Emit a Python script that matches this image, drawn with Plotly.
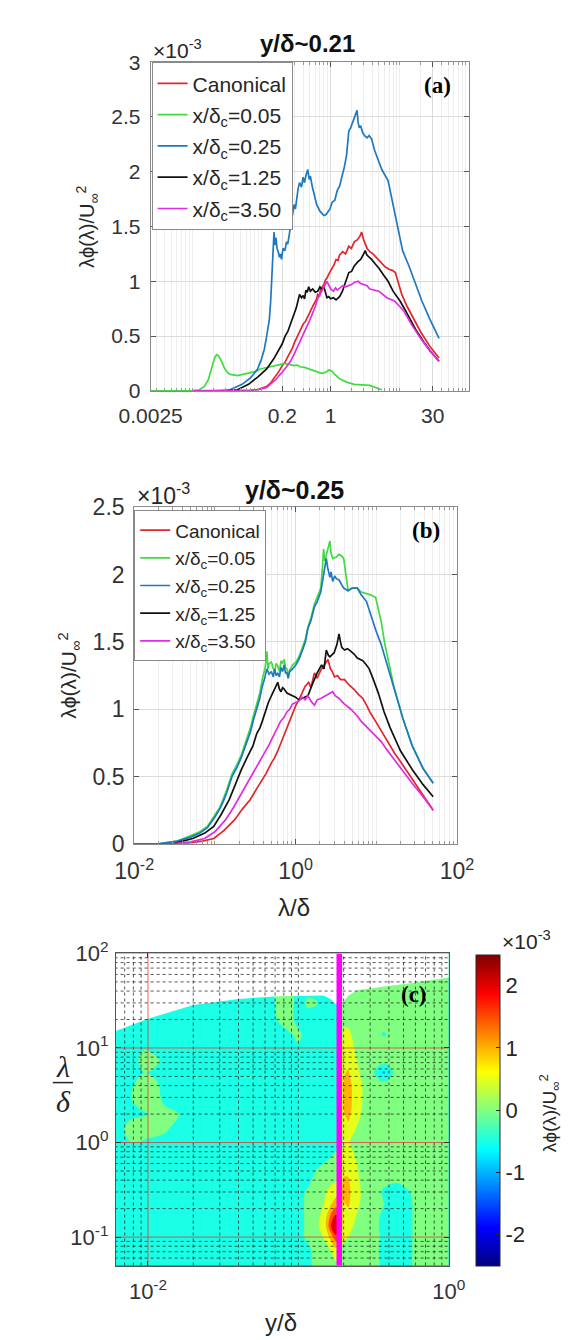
import numpy as np
import plotly.graph_objects as go

W, H = 573, 1340

# ---------------- DATA ----------------
series_names = ["Canonical", "x/δ<sub>c</sub>=0.05", "x/δ<sub>c</sub>=0.25",
                "x/δ<sub>c</sub>=1.25", "x/δ<sub>c</sub>=3.50"]
series_colors = ["#e3262b", "#3fdc3f", "#1f78c0", "#111111", "#e02de0"]

# Panel (a): y/delta ~ 0.21  (lambda/delta, lambda*phi/U^2 in units of 1e-3)
a_canonical = [(0.01, 0), (0.04, 0), (0.07, 0.005), (0.09, 0.015), (0.119, 0.04), (0.135, 0.07), (0.15, 0.11),
               (0.165, 0.14), (0.18, 0.18), (0.2, 0.23), (0.219, 0.26), (0.24, 0.31), (0.26, 0.35), (0.28, 0.39),
               (0.3, 0.44), (0.325, 0.49), (0.35, 0.53), (0.375, 0.58), (0.402, 0.61), (0.43, 0.63), (0.45, 0.66),
               (0.48, 0.7), (0.513, 0.73), (0.56, 0.78), (0.597, 0.82), (0.63, 0.84), (0.65, 0.88), (0.69, 0.87),
               (0.72, 0.93), (0.76, 0.95), (0.8, 0.97), (0.84, 1.01), (0.885, 1.03), (0.95, 1.07), (1.05, 1.12),
               (1.12, 1.15), (1.2, 1.2), (1.28, 1.19), (1.35, 1.24), (1.5, 1.27), (1.65, 1.25), (1.835, 1.32),
               (2.0, 1.3), (2.2, 1.36), (2.45, 1.38), (2.65, 1.41), (2.81, 1.45), (3.0, 1.38), (3.37, 1.3),
               (3.7, 1.27), (4.1, 1.25), (4.57, 1.22), (5.3, 1.18), (6.19, 1.13), (7.0, 1.11), (7.8, 1.1),
               (8.64, 1.08), (9.6, 0.97), (10.7, 0.88), (12.8, 0.77), (15.4, 0.67), (20, 0.54), (27, 0.41), (37, 0.3)]
a_x005 = [(0.0025, 0), (0.006, 0), (0.01, 0.003), (0.0126, 0.01), (0.015, 0.04), (0.017, 0.1), (0.019, 0.2),
          (0.021, 0.3), (0.0224, 0.33), (0.024, 0.32), (0.026, 0.28), (0.029, 0.21), (0.032, 0.17), (0.0354, 0.15),
          (0.045, 0.14), (0.0525, 0.15), (0.07, 0.17), (0.085, 0.18), (0.0964, 0.2), (0.13, 0.22), (0.177, 0.24),
          (0.22, 0.25), (0.26, 0.24), (0.297, 0.23), (0.33, 0.235), (0.36, 0.22), (0.42, 0.215), (0.482, 0.2),
          (0.6, 0.18), (0.738, 0.16), (0.85, 0.17), (0.95, 0.19), (1.05, 0.18), (1.15, 0.15), (1.355, 0.11),
          (1.7, 0.08), (2.2, 0.06), (3.0, 0.05), (3.7, 0.05), (4.5, 0.03), (5.5, 0.01)]
a_x025 = [(0.01, 0), (0.025, 0), (0.035, 0.01), (0.0525, 0.06), (0.07, 0.12), (0.088, 0.2), (0.1, 0.29),
          (0.11, 0.38), (0.119, 0.5), (0.13, 0.65), (0.136, 0.82), (0.139, 0.95), (0.143, 1.15), (0.147, 1.3),
          (0.152, 1.45), (0.156, 1.33), (0.162, 1.4), (0.168, 1.3), (0.175, 1.27), (0.182, 1.22), (0.188, 1.25),
          (0.195, 1.2), (0.205, 1.3), (0.219, 1.28), (0.23, 1.36), (0.24, 1.34), (0.253, 1.44), (0.263, 1.5),
          (0.28, 1.6), (0.297, 1.7), (0.31, 1.66), (0.325, 1.78), (0.34, 1.85), (0.356, 1.9), (0.38, 1.86),
          (0.4, 1.95), (0.42, 1.9), (0.441, 1.97), (0.468, 2.02), (0.49, 1.93), (0.51, 1.96), (0.545, 1.86),
          (0.57, 1.8), (0.6, 1.75), (0.63, 1.7), (0.654, 1.68), (0.7, 1.64), (0.75, 1.62), (0.8, 1.6),
          (0.859, 1.61), (0.92, 1.64), (0.98, 1.66), (1.05, 1.72), (1.15, 1.74), (1.25, 1.83), (1.355, 1.87),
          (1.45, 1.95), (1.578, 2.04), (1.7, 2.15), (1.835, 2.37), (1.95, 2.4), (2.1, 2.45), (2.25, 2.5),
          (2.41, 2.56), (2.5, 2.45), (2.6, 2.4), (2.72, 2.42), (2.9, 2.36), (3.1, 2.33), (3.37, 2.31), (3.6, 2.33),
          (3.92, 2.3), (4.3, 2.2), (4.71, 2.13), (5.5, 2.02), (6.78, 1.92), (8.0, 1.7), (9.19, 1.5), (11, 1.28),
          (13.6, 1.14), (17, 0.97), (20.9, 0.82), (27, 0.66), (37, 0.48)]
a_x125 = [(0.01, 0), (0.03, 0), (0.045, 0.01), (0.065, 0.06), (0.09, 0.13), (0.119, 0.2), (0.15, 0.29),
          (0.177, 0.37), (0.2, 0.43), (0.22, 0.5), (0.24, 0.54), (0.263, 0.61), (0.28, 0.66), (0.3, 0.72),
          (0.32, 0.76), (0.34, 0.83), (0.356, 0.88), (0.38, 0.85), (0.402, 0.87), (0.42, 0.84), (0.44, 0.92),
          (0.46, 0.9), (0.482, 0.95), (0.51, 0.91), (0.55, 0.93), (0.6, 0.9), (0.654, 0.91), (0.7, 0.95),
          (0.74, 0.93), (0.809, 0.94), (0.85, 0.88), (0.885, 0.85), (0.94, 0.86), (1.0, 0.84), (1.1, 0.85),
          (1.2, 0.83), (1.35, 0.86), (1.485, 0.91), (1.6, 0.97), (1.7, 1.02), (1.835, 1.08), (2.01, 1.09),
          (2.2, 1.14), (2.49, 1.18), (2.72, 1.2), (2.95, 1.24), (3.17, 1.28), (3.35, 1.24), (3.5, 1.23),
          (3.92, 1.2), (4.4, 1.16), (5.0, 1.12), (5.8, 1.06), (6.78, 1.0), (8.0, 0.91), (10.1, 0.82),
          (11.7, 0.75), (13.6, 0.67), (17, 0.56), (22, 0.45), (28, 0.36), (37, 0.27)]
a_x350 = [(0.01, 0), (0.04, 0), (0.07, 0.005), (0.09, 0.012), (0.119, 0.03), (0.14, 0.07), (0.16, 0.1),
          (0.18, 0.14), (0.2, 0.17), (0.23, 0.22), (0.263, 0.27), (0.3, 0.34), (0.33, 0.4), (0.36, 0.45),
          (0.4, 0.52), (0.44, 0.57), (0.482, 0.62), (0.52, 0.67), (0.56, 0.72), (0.6, 0.77), (0.65, 0.84),
          (0.7, 0.88), (0.738, 0.91), (0.8, 0.95), (0.885, 1.0), (0.95, 0.96), (1.0, 0.93), (1.1, 0.91),
          (1.18, 0.94), (1.25, 0.92), (1.4, 0.94), (1.5, 0.96), (1.65, 0.95), (1.835, 0.96), (2.0, 0.97),
          (2.2, 0.99), (2.49, 1.0), (2.72, 0.98), (3.0, 0.97), (3.37, 0.96), (3.69, 0.93), (4.3, 0.92),
          (5.0, 0.91), (6.5, 0.85), (8.38, 0.82), (10, 0.77), (11.4, 0.73), (15, 0.6), (20, 0.48), (27, 0.37),
          (37, 0.27)]

# Panel (b): y/delta ~ 0.25
b_canonical = [(0.01, 0), (0.04, 0), (0.07, 0.02), (0.0968, 0.04), (0.13, 0.1), (0.176, 0.18), (0.22, 0.26),
               (0.275, 0.33), (0.33, 0.41), (0.38, 0.47), (0.428, 0.52), (0.5, 0.6), (0.55, 0.64), (0.601, 0.69),
               (0.68, 0.77), (0.78, 0.86), (0.88, 0.93), (1.01, 1.03), (1.1, 1.07), (1.2, 1.12), (1.31, 1.17),
               (1.45, 1.2), (1.55, 1.16), (1.71, 1.27), (1.85, 1.23), (2.05, 1.29), (2.25, 1.33), (2.52, 1.37),
               (2.7, 1.3), (2.85, 1.28), (3.03, 1.24), (3.3, 1.25), (3.6, 1.22), (4.04, 1.22), (4.6, 1.18),
               (5.24, 1.15), (6.0, 1.11), (6.81, 1.08), (7.56, 1.03), (8.5, 0.97), (9.81, 0.91), (11.5, 0.84),
               (13.8, 0.77), (17, 0.67), (20, 0.61), (28, 0.48), (38, 0.37), (50.7, 0.25)]
b_x005 = [(0.01, 0), (0.02, 0), (0.0341, 0.02), (0.05, 0.06), (0.065, 0.09), (0.0807, 0.13), (0.1, 0.22),
          (0.115, 0.27), (0.126, 0.33), (0.14, 0.4), (0.163, 0.52), (0.185, 0.58), (0.212, 0.66), (0.24, 0.76),
          (0.275, 0.86), (0.3, 0.95), (0.33, 1.05), (0.36, 1.12), (0.386, 1.22), (0.41, 1.28), (0.42, 1.31),
          (0.44, 1.43), (0.455, 1.3), (0.47, 1.34), (0.501, 1.35), (0.53, 1.3), (0.55, 1.28), (0.575, 1.34),
          (0.601, 1.32), (0.63, 1.28), (0.66, 1.36), (0.69, 1.34), (0.722, 1.37), (0.75, 1.31), (0.78, 1.3),
          (0.81, 1.25), (0.844, 1.29), (0.92, 1.33), (1.01, 1.35), (1.1, 1.39), (1.22, 1.46), (1.32, 1.52),
          (1.42, 1.61), (1.55, 1.68), (1.71, 1.78), (1.85, 1.83), (2.05, 1.9), (2.15, 2.05), (2.22, 2.19),
          (2.3, 2.1), (2.4, 2.15), (2.5, 2.2), (2.66, 2.25), (2.75, 2.16), (2.88, 2.12), (3.2, 2.13),
          (3.45, 2.15), (3.7, 2.14), (3.94, 2.12), (4.2, 2.0), (4.48, 1.88), (5.0, 1.9), (5.82, 1.9),
          (6.5, 1.87), (7.56, 1.86), (8.5, 1.85), (9.81, 1.83), (10.6, 1.75), (11.5, 1.65), (12.7, 1.49),
          (13.8, 1.39), (16.5, 1.17), (21.4, 0.93), (27.8, 0.73), (38, 0.56), (50.7, 0.45)]
b_x025 = [(0.01, 0), (0.02, 0), (0.0341, 0.02), (0.05, 0.05), (0.065, 0.08), (0.0807, 0.12), (0.1, 0.2),
          (0.115, 0.26), (0.126, 0.31), (0.14, 0.38), (0.163, 0.5), (0.185, 0.56), (0.212, 0.64), (0.24, 0.73),
          (0.275, 0.83), (0.3, 0.92), (0.33, 1.0), (0.36, 1.08), (0.386, 1.17), (0.41, 1.22), (0.44, 1.3),
          (0.47, 1.26), (0.501, 1.28), (0.53, 1.24), (0.55, 1.3), (0.575, 1.25), (0.601, 1.27), (0.63, 1.24),
          (0.66, 1.31), (0.69, 1.28), (0.722, 1.33), (0.75, 1.27), (0.78, 1.27), (0.81, 1.23), (0.844, 1.28),
          (0.92, 1.3), (1.01, 1.33), (1.1, 1.37), (1.22, 1.44), (1.32, 1.5), (1.42, 1.6), (1.55, 1.66),
          (1.71, 1.76), (1.85, 1.8), (2.05, 1.87), (2.22, 2.0), (2.4, 2.12), (2.5, 2.05), (2.66, 1.98),
          (2.75, 2.02), (2.88, 1.95), (3.05, 1.99), (3.2, 1.97), (3.45, 1.96), (3.94, 1.9), (4.48, 1.88),
          (5.0, 1.9), (5.82, 1.9), (6.5, 1.85), (7.56, 1.8), (8.5, 1.7), (9.81, 1.59), (11.5, 1.48),
          (12.7, 1.39), (13.8, 1.33), (16.5, 1.17), (21.4, 0.93), (27.8, 0.73), (38, 0.56), (50.7, 0.45)]
b_x125 = [(0.01, 0), (0.03, 0), (0.0531, 0.04), (0.075, 0.08), (0.0968, 0.13), (0.12, 0.22), (0.151, 0.33),
          (0.18, 0.45), (0.212, 0.55), (0.25, 0.64), (0.297, 0.73), (0.33, 0.82), (0.36, 0.86), (0.386, 0.91),
          (0.42, 0.98), (0.46, 1.05), (0.501, 1.1), (0.55, 1.15), (0.601, 1.2), (0.63, 1.15), (0.66, 1.13),
          (0.69, 1.16), (0.722, 1.15), (0.78, 1.12), (0.844, 1.11), (0.92, 1.1), (1.0, 1.09), (1.1, 1.07),
          (1.22, 1.08), (1.42, 1.1), (1.6, 1.18), (1.85, 1.27), (2.1, 1.33), (2.25, 1.3), (2.4, 1.44),
          (2.55, 1.4), (2.66, 1.39), (3.0, 1.42), (3.25, 1.48), (3.45, 1.56), (3.6, 1.5), (3.73, 1.46),
          (4.04, 1.44), (4.4, 1.45), (4.85, 1.43), (5.3, 1.41), (5.82, 1.38), (6.81, 1.36), (7.5, 1.33),
          (8.17, 1.3), (9.2, 1.22), (10.6, 1.12), (12.5, 0.98), (14.9, 0.86), (20, 0.69), (28, 0.55),
          (38, 0.44), (50.7, 0.35)]
b_x350 = [(0.01, 0), (0.03, 0), (0.05, 0.015), (0.0746, 0.04), (0.1, 0.09), (0.136, 0.18), (0.17, 0.27),
          (0.212, 0.37), (0.26, 0.47), (0.33, 0.57), (0.4, 0.66), (0.463, 0.73), (0.55, 0.82), (0.65, 0.91),
          (0.72, 0.94), (0.78, 0.98), (0.844, 1.0), (0.92, 1.04), (1.0, 1.05), (1.1, 1.06), (1.2, 1.09),
          (1.31, 1.07), (1.42, 1.1), (1.55, 1.06), (1.71, 1.03), (1.85, 1.07), (2.05, 1.08), (2.22, 1.09),
          (2.5, 1.11), (2.88, 1.13), (3.1, 1.1), (3.45, 1.08), (4.0, 1.04), (4.85, 1.0), (5.8, 0.95),
          (6.5, 0.91), (7.56, 0.87), (8.5, 0.84), (10, 0.79), (11.5, 0.76), (13.5, 0.7), (16.5, 0.63),
          (21.4, 0.54), (27.8, 0.45), (38, 0.35), (50.7, 0.25)]

a_series = [a_canonical, a_x005, a_x025, a_x125, a_x350]
b_series = [b_canonical, b_x005, b_x025, b_x125, b_x350]

a_xticks = [0.0025, 0.2, 1, 30]
a_xticktext = ["0.0025", "0.2", "1", "30"]
a_yticks = [0, 0.5, 1, 1.5, 2, 2.5, 3]
b_xticks = [0.01, 1, 100]
b_xticktext = ["10<sup>-2</sup>", "10<sup>0</sup>", "10<sup>2</sup>"]
b_yticks = [0, 0.5, 1, 1.5, 2, 2.5]

# Panel (c): contour map, x = y/delta, y = lambda/delta, z in units of 1e-3
c_ypos = [0.006, 0.0078, 0.0095, 0.011, 0.013, 0.016, 0.02, 0.04, 0.07, 0.085, 0.1, 0.115, 0.13,
          0.15, 0.165, 0.178, 0.2, 0.215, 0.235, 0.26, 0.3, 0.37, 0.45, 0.55, 0.7, 1.0]
c_lambda = [0.05, 0.07, 0.1, 0.13, 0.17, 0.22, 0.3, 0.4, 0.55, 0.75, 1.0, 1.4, 2.0, 2.8, 4.0, 5.5,
            7.5, 10, 14, 20, 30, 45, 70, 100]
c_z = [
    # 0.006 .0078 .0095 .011 .013 .016  .02  .04  .07 .085   .1 .115  .13  .15 .165 .178   .2 .215 .235  .26   .3  .37  .45  .55   .7  1.0
    [-.25, -.25, -.25, -.25, -.25, -.25, -.25, -.25, -.25, -.25, -.25, -.25, .25, .25, .3, .4, .3, .25, .25, .25, .25, -.1, -.2, -.05, .25, .25],
    [-.25, -.25, -.25, -.25, -.25, -.25, -.25, -.25, -.25, -.25, -.25, -.25, .25, .3, .5, .7, .4, .3, .25, .25, .25, -.15, -.2, -.05, .25, .25],
    [-.25, -.25, -.25, -.25, -.25, -.25, -.25, -.25, -.25, -.25, -.25, .15, .3, .55, 1.2, 1.9, .55, .5, .3, .25, .25, -.1, -.2, -.05, .25, .25],
    [-.25, -.25, -.25, -.25, -.25, -.25, -.25, -.25, -.25, -.25, -.25, .15, .35, .8, 2.0, 2.45, .7, .7, .45, .25, .25, -.15, -.2, -.05, .25, .25],
    [-.25, -.25, -.25, -.25, -.25, -.25, -.25, -.25, -.25, -.25, -.25, .15, .3, .7, 1.6, 2.1, .8, .85, .6, .3, .25, -.1, -.2, -.05, .25, .25],
    [-.25, -.25, -.25, -.25, -.25, -.25, -.25, -.25, -.25, -.25, -.25, .15, .25, .55, 1.0, 1.3, .95, 1.05, .7, .45, .25, 0.0, -.2, -.05, .25, .25],
    [-.25, -.25, -.25, -.25, -.25, -.25, -.25, -.25, -.25, -.25, -.25, .1, .2, .45, .7, .8, 1.1, 1.15, .75, .5, .25, -.05, -.15, 0.0, .25, .25],
    [-.25, -.25, -.25, -.25, -.25, -.25, -.25, -.25, -.25, -.25, -.25, -.25, .25, .3, .35, .45, 1.05, 1.05, .7, .45, .25, .1, .05, .2, .25, .25],
    [-.25, -.25, -.25, -.25, -.25, -.25, -.25, -.25, -.25, -.25, -.25, -.25, -.1, .15, .2, .2, .85, .85, .6, .4, .25, .25, .25, .25, .25, .25],
    [-.25, -.25, -.25, -.25, -.25, -.25, -.25, -.25, -.25, -.25, -.25, -.25, -.25, -.25, -.05, .1, .65, .7, .5, .3, .25, .25, .25, .25, .25, .25],
    [-.25, 0.0, -.1, -.2, -.25, -.25, -.25, -.25, -.25, -.25, -.25, -.25, -.25, -.25, -.25, -.25, .55, .55, .35, .25, .25, .25, .25, .25, .25, .25],
    [-.25, .2, .35, .3, .1, -.25, -.25, -.25, -.25, -.25, -.25, -.25, -.25, -.25, -.25, -.25, .75, .85, .55, .35, .25, .25, .25, .25, .25, .25],
    [-.25, -.1, -.05, .05, .15, 0.0, -.25, -.25, -.25, -.25, -.25, -.25, -.25, -.25, -.25, -.25, .95, 1.15, .75, .5, .25, .25, .25, .25, .25, .25],
    [-.25, 0.0, .3, .2, -.1, -.25, -.25, -.25, -.25, -.25, -.25, -.25, -.25, -.25, -.25, -.25, 1.1, 1.3, .8, .55, .25, .25, .25, .25, .25, .25],
    [-.25, -.05, .3, .15, -.2, -.25, -.25, -.25, -.25, -.25, -.25, -.25, -.25, -.25, -.25, -.25, 1.05, 1.25, .8, .55, .25, .25, .25, .25, .25, .25],
    [-.25, -.25, 0.0, -.1, -.25, -.25, -.25, -.25, -.25, -.25, -.25, -.25, -.25, -.25, -.25, -.25, .95, 1.05, .7, .45, .25, -.6, .25, .25, .25, .25],
    [-.25, -.25, .25, .2, -.25, -.25, -.25, -.25, -.25, -.25, -.25, -.25, -.25, -.25, -.25, -.25, .8, .85, .6, .35, .25, .25, .25, .25, .25, .25],
    [-.25, -.25, -.05, -.25, -.25, -.25, -.25, -.25, -.25, -.25, -.1, -.25, -.25, -.25, -.25, -.25, .7, .75, .5, .25, .25, .25, .25, .25, .25, .25],
    [-.25, -.25, -.25, -.25, -.25, -.25, -.25, -.25, -.25, -.1, .15, -.25, -.25, -.25, -.25, -.25, .6, .6, .4, .25, .25, -.05, .25, .25, .25, .25],
    [-.25, -.25, -.25, -.25, -.25, -.25, -.25, -.25, -.05, .3, -.25, -.25, -.25, -.25, -.25, -.25, .4, .35, .3, .25, .25, .25, .25, .25, .25, .25],
    [-.25, -.25, -.25, -.25, -.25, -.25, -.25, -.25, 0.0, .35, -.25, .1, .05, -.25, -.25, -.25, .25, .25, .25, .25, .25, .25, .25, .25, .25, .25],
    [-.25, -.25, -.25, -.25, -.25, -.25, -.25, -.25, 0.0, .3, -.25, -.25, -.25, -.25, -.25, -.25, .25, .25, .25, .25, .25, .25, .25, .25, .25, .25],
    [-.25, -.25, -.25, -.25, -.25, -.25, -.25, -.25, -.25, -.25, -.25, -.25, -.25, -.25, -.25, -.25, .25, .25, .25, .25, .25, .25, .25, .25, .25, .25],
    [-.25, -.25, -.25, -.25, -.25, -.25, -.25, -.25, -.25, -.25, -.25, -.25, -.25, -.25, -.25, -.25, .25, .25, .25, .25, .25, .25, .25, .25, .25, .25],
]
# upper edge of the measured region (above it: no data, white)
c_edge_ypos = [0.006, 0.01, 0.02, 0.04, 0.073, 0.111, 0.147, 0.164, 0.176, 0.187, 0.2, 0.215, 0.247, 0.34, 0.54, 1.0]
c_edge_lambda = [15, 20.4, 28.5, 33, 35.3, 36, 36, 33, 29.3, 29.3, 30.6, 36, 40.7, 43.8, 48, 55.6]
c_marker_ypos = 0.187          # highlighted wall-normal station
c_xticks = [0.01, 1]
c_xticktext = ["10<sup>-2</sup>", "10<sup>0</sup>"]
c_yticks = [0.1, 1, 10, 100]
c_yticktext = ["10<sup>-1</sup>", "10<sup>0</sup>", "10<sup>1</sup>", "10<sup>2</sup>"]
cbar_ticks = [-2, -1, 0, 1, 2]

# ---------------- helpers ----------------
def px(p):
    return p / W


def py(p):
    return 1 - p / H


def jet_rgb(t):
    t = float(np.clip(t, 0, 1))
    r = np.clip(min(4 * t - 1.5, -4 * t + 4.5), 0, 1)
    g = np.clip(min(4 * t - 0.5, -4 * t + 3.5), 0, 1)
    b = np.clip(min(4 * t + 0.5, -4 * t + 2.5), 0, 1)
    return "rgb(%d,%d,%d)" % (round(255 * r), round(255 * g), round(255 * b))


jet_cs = [[i / 8, jet_rgb(i / 8)] for i in range(9)]

# contourf-like band colours (each band takes the colour of its lower level)
lev_start, lev_end, lev_size = -2.5, 2.5, 0.5
band_cs = [[0.0, jet_rgb(0.0)]]
for k in range(10):
    lo = lev_start + k * lev_size
    mid = lo + lev_size / 2
    t = (mid - (lev_start - lev_size / 2)) / ((lev_end + lev_size / 2) - (lev_start - lev_size / 2))
    band_cs.append([t, jet_rgb((lo - lev_start) / (lev_end - lev_start))])
band_cs.append([1.0, jet_rgb(1.0)])

FONT = "Liberation Sans, Arial, sans-serif"
TXT = "#262626"

fig = go.Figure()

# ---------------- panels (a) and (b) ----------------
for i in range(5):
    lam, val = zip(*a_series[i])
    fig.add_trace(go.Scatter(x=lam, y=val, mode="lines", name=series_names[i],
                             line=dict(color=series_colors[i], width=1.7),
                             legendgroup="a%d" % i, legend="legend",
                             xaxis="x", yaxis="y"))
for i in range(5):
    lam, val = zip(*b_series[i])
    fig.add_trace(go.Scatter(x=lam, y=val, mode="lines", name=series_names[i],
                             line=dict(color=series_colors[i], width=1.7),
                             legendgroup="b%d" % i, legend="legend2",
                             xaxis="x2", yaxis="y2"))

# ---------------- panel (c) ----------------
fig.add_trace(go.Contour(x=c_ypos, y=c_lambda, z=c_z, xaxis="x3", yaxis="y3",
                         autocontour=False,
                         contours=dict(start=lev_start, end=lev_end, size=lev_size,
                                       coloring="fill", showlines=False),
                         line=dict(width=0), colorscale=band_cs, showscale=False,
                         hoverinfo="skip", showlegend=False))
# white: no-data region above measured edge
mx = list(c_edge_ypos) + [c_edge_ypos[-1], c_edge_ypos[0]]
my = list(c_edge_lambda) + [300, 300]
fig.add_trace(go.Scatter(x=mx, y=my, mode="lines", fill="toself", fillcolor="white",
                         line=dict(width=0, color="white"), xaxis="x3", yaxis="y3",
                         hoverinfo="skip", showlegend=False))

# grid lines drawn over the filled contours
x_lo, x_hi = c_ypos[0], c_ypos[-1]
y_lo, y_hi = c_lambda[0], c_lambda[-1]
minor_x = [k * 10.0 ** n for n in (-3, -2, -1) for k in range(1, 10)
           if x_lo < k * 10.0 ** n < x_hi and k * 10.0 ** n not in c_xticks]
minor_y = [k * 10.0 ** n for n in (-2, -1, 0, 1) for k in range(1, 10)
           if y_lo < k * 10.0 ** n < y_hi and k * 10.0 ** n not in c_yticks]
gx, gy = [], []
for v in minor_x:
    gx += [v, v, None]
    gy += [y_lo, y_hi, None]
for v in minor_y:
    gx += [x_lo, x_hi, None]
    gy += [v, v, None]
fig.add_trace(go.Scatter(x=gx, y=gy, mode="lines", line=dict(color="rgba(30,30,30,0.75)", width=1, dash="dot"),
                         xaxis="x3", yaxis="y3", hoverinfo="skip", showlegend=False))
rx, ry = [], []
for v in c_xticks[:-1]:
    rx += [v, v, None]
    ry += [y_lo, y_hi, None]
for v in c_yticks[:-1]:
    rx += [x_lo, x_hi, None]
    ry += [v, v, None]
fig.add_trace(go.Scatter(x=rx, y=ry, mode="lines", line=dict(color="rgba(225,50,50,0.75)", width=1),
                         xaxis="x3", yaxis="y3", hoverinfo="skip", showlegend=False))
fig.add_trace(go.Scatter(x=[c_marker_ypos, c_marker_ypos], y=[y_lo, y_hi], mode="lines",
                         line=dict(color="#ff00ff", width=5.5), xaxis="x3", yaxis="y3",
                         hoverinfo="skip", showlegend=False))
# colour bar
fig.add_trace(go.Scatter(x=[None], y=[None], mode="markers", xaxis="x3", yaxis="y3",
                         marker=dict(color=[0], colorscale=jet_cs, cmin=-2.5, cmax=2.5, showscale=True,
                                     colorbar=dict(x=px(477), xanchor="left", y=py(1269), yanchor="bottom",
                                                   len=(1269 - 951) / H, lenmode="fraction",
                                                   thickness=24, thicknessmode="pixels", xpad=0, ypad=0,
                                                   outlinewidth=1, outlinecolor=TXT,
                                                   tickmode="array", tickvals=cbar_ticks,
                                                   ticktext=[str(v) for v in cbar_ticks],
                                                   ticks="inside", ticklen=4, tickcolor=TXT,
                                                   tickfont=dict(family=FONT, size=22, color=TXT))),
                         hoverinfo="skip", showlegend=False))


def minor_vals(lo, hi):
    return [k * 10.0 ** n for n in range(-4, 3) for k in range(1, 10) if lo <= k * 10.0 ** n <= hi]


ab_common = dict(ticks="inside", ticklen=5, tickcolor="#555", showline=True, linecolor="#8a8a8a",
                 linewidth=1, mirror="allticks", showgrid=True, gridcolor="#dcdcdc", zeroline=False)

layout = dict(
    width=W, height=H, margin=dict(l=0, r=0, t=0, b=0),
    paper_bgcolor="white", plot_bgcolor="white",
    font=dict(family=FONT, color=TXT),
    xaxis=dict(type="log", domain=[px(121), px(469)], range=[np.log10(0.0025), 2.0], anchor="y",
               tickmode="array", tickvals=a_xticks, ticktext=a_xticktext,
               tickfont=dict(size=21, color="#333"), ticklabelstandoff=6,
               minor=dict(tickvals=minor_vals(0.0025, 100), ticks="inside", ticklen=3, tickcolor="#999",
                          showgrid=True, gridcolor="#eeeeee"), **ab_common),
    yaxis=dict(domain=[py(375), py(39)], range=[0, 3], anchor="x", tickmode="array", tickvals=a_yticks,
               tickfont=dict(size=21, color="#333"), ticklabelstandoff=5, **ab_common),
    xaxis2=dict(type="log", domain=[px(103), px(456)], range=[-2, 2], anchor="y2",
                tickmode="array", tickvals=b_xticks, ticktext=b_xticktext,
                tickfont=dict(size=23, color="#333"), ticklabelstandoff=7,
                minor=dict(tickvals=minor_vals(0.01, 100), ticks="inside", ticklen=3, tickcolor="#999",
                           showgrid=True, gridcolor="#eeeeee"), **ab_common),
    yaxis2=dict(domain=[py(838), py(494)], range=[0, 2.5], anchor="x2", tickmode="array", tickvals=b_yticks,
                tickfont=dict(size=23, color="#333"), ticklabelstandoff=4, **ab_common),
    xaxis3=dict(type="log", domain=[px(83), px(447)], range=[np.log10(0.00612), 0], anchor="y3",
                tickmode="array", tickvals=c_xticks, ticktext=c_xticktext, tickfont=dict(size=22, color="#333"),
                ticklabelstandoff=6,
                ticks="inside", ticklen=5, tickcolor="#333", showline=True, linecolor="#555", mirror="allticks",
                showgrid=False, zeroline=False),
    yaxis3=dict(type="log", domain=[py(1269), py(950)], range=[np.log10(0.05), 2], anchor="x3",
                tickmode="array", tickvals=c_yticks, ticktext=c_yticktext, tickfont=dict(size=22, color="#333"),
                ticklabelstandoff=2,
                ticks="inside", ticklen=5, tickcolor="#333", showline=True, linecolor="#555", mirror="allticks",
                showgrid=False, zeroline=False),
    legend=dict(x=px(122), y=py(39), xanchor="left", yanchor="top", bgcolor="white",
                bordercolor="#8a8a8a", borderwidth=1, font=dict(family=FONT, size=21, color=TXT),
                itemwidth=30, traceorder="grouped", tracegroupgap=1),
    legend2=dict(x=px(103), y=py(497), xanchor="left", yanchor="top", bgcolor="white",
                 bordercolor="#8a8a8a", borderwidth=1, font=dict(family=FONT, size=19, color=TXT),
                 itemwidth=30, traceorder="grouped", tracegroupgap=0),
    showlegend=True,
)
fig.update_layout(**layout)


def ann(text, x, y, size, xanchor="center", angle=0, family=FONT, color=TXT):
    return dict(text=text, x=px(x), y=py(y), xref="paper", yref="paper", xanchor=xanchor, yanchor="middle",
                showarrow=False, textangle=angle, font=dict(family=family, size=size, color=color))


ylab = "λϕ(λ)/U<sub>∞</sub><sup>2</sup>"
annotations = [
    ann("<b>y/δ~0.21</b>", 293, 20, 24, color="#111"),
    ann("<b>y/δ~0.25</b>", 278, 476, 25, color="#111"),
    ann("×10<sup>-3</sup>", 121, 26, 21, xanchor="left"),
    ann("×10<sup>-3</sup>", 104, 480, 23, xanchor="left"),
    ann("×10<sup>-3</sup>", 503, 936, 21, xanchor="left"),
    ann("<b>(a)</b>", 435, 63, 23, family="Liberation Serif, Times New Roman, serif", color="#000"),
    ann("<b>(b)</b>", 422, 518, 23, family="Liberation Serif, Times New Roman, serif", color="#000"),
    ann("<b>(c)</b>", 409, 992, 23, family="Liberation Serif, Times New Roman, serif", color="#000"),
    ann(ylab, 52, 207, 20, angle=-90),
    ann(ylab, 32, 666, 21, angle=-90),
    ann("λ/δ", 278, 903, 24),
    ann("y/δ", 264, 1327, 24),
    ann("<i>λ</i>", 25, 1066, 30, family="Liberation Serif, Times New Roman, serif"),
    ann("<i>δ</i>", 26, 1101, 30, family="Liberation Serif, Times New Roman, serif"),
    ann(ylab, 558, 1113, 19, angle=-90),
]
fig.update_layout(annotations=annotations,
                  shapes=[dict(type="line", xref="paper", yref="paper", x0=px(14), x1=px(36),
                               y0=py(1082), y1=py(1082), line=dict(color=TXT, width=1.5))])

fig.write_html("out.html")
